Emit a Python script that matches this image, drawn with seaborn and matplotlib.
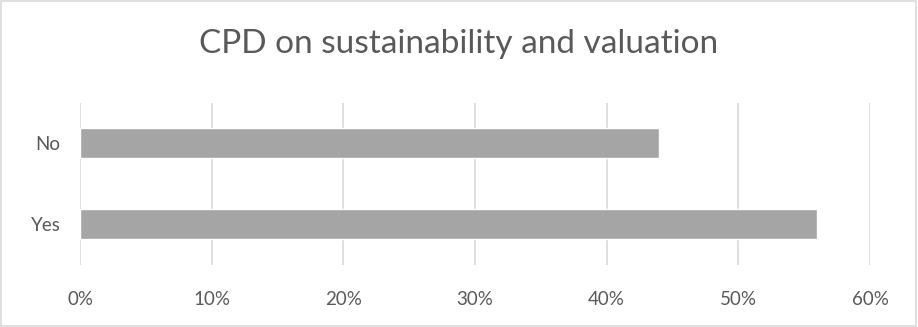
import matplotlib
matplotlib.use("Agg")
import matplotlib.pyplot as plt
import seaborn as sns
import pandas as pd
from matplotlib.ticker import PercentFormatter, MultipleLocator
from matplotlib.patches import Rectangle

# Survey responses
categories = ["No", "Yes"]
shares = [0.44, 0.56]
title = "CPD on sustainability and valuation"

df = pd.DataFrame({"answer": categories, "share": shares})

sns.set_theme(style="white")
plt.rcParams["font.family"] = ["Lato", "DejaVu Sans"]

fig = plt.figure(figsize=(9.18, 3.27), dpi=100)
ax = fig.add_axes([80 / 918, 1 - 264.5 / 327, 790 / 918, 162 / 327])

sns.barplot(data=df, x="share", y="answer", order=categories, color="#a5a5a5",
            saturation=1, width=0.36, ax=ax, orient="h")

ax.set_xlim(0, 0.6)
ax.set_ylim(1.5, -0.5)
ax.xaxis.set_major_locator(MultipleLocator(0.1))
ax.xaxis.set_major_formatter(PercentFormatter(1.0, decimals=0))
ax.grid(axis="x", color="#d9d9d9", linewidth=1.2)
ax.set_axisbelow(True)
for s in ax.spines.values():
    s.set_visible(False)
ax.set_xlabel("")
ax.set_ylabel("")
ax.tick_params(axis="x", length=0, pad=19, labelsize=13.5, labelcolor="#595959")
ax.tick_params(axis="y", length=0, pad=14, labelsize=13.5, labelcolor="#595959")

fig.text(0.5, 1 - 44 / 327, title, ha="center", va="center",
         fontsize=24, color="#595959")

# Chart-area border
fig.patches.append(Rectangle((0.001, 0.002), 0.997, 0.995, transform=fig.transFigure,
                             fill=False, edgecolor="#d9d9d9", linewidth=1.2))

fig.savefig("out.png", dpi=100)
